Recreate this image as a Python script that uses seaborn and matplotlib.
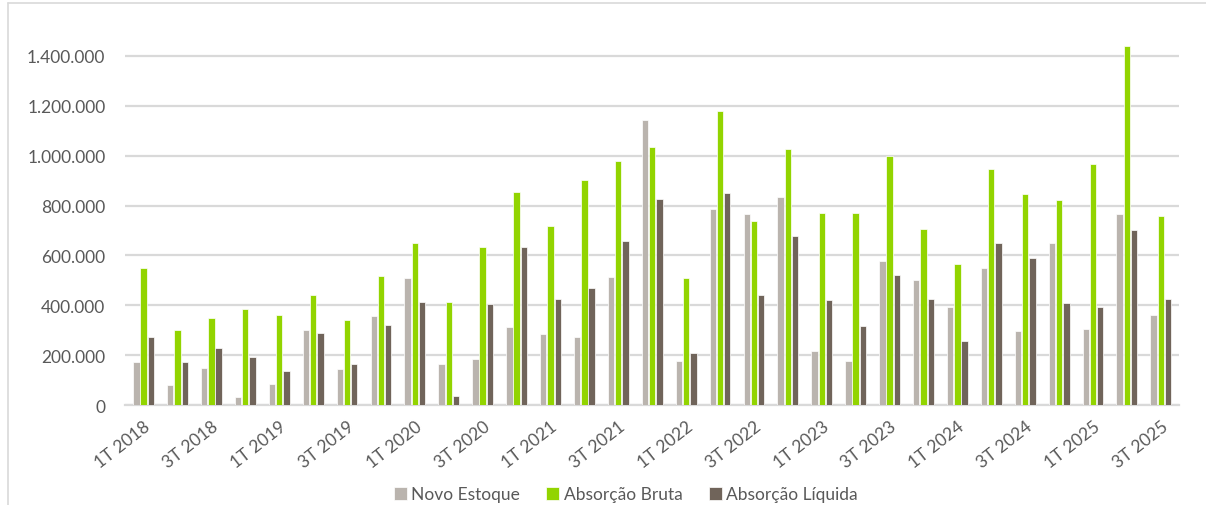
import matplotlib
matplotlib.use("Agg")
import matplotlib.pyplot as plt
import matplotlib.ticker as mticker
import pandas as pd
import seaborn as sns

# quarters 1T 2018 .. 3T 2025
quarters = [f"{q}T {y}" for y in range(2018, 2026) for q in range(1, 5)][:31]

novo_estoque = [171000, 80000, 150000, 33000, 83000, 299000, 144000, 355000,
                510000, 164000, 183000, 313000, 283000, 274000, 512000, 1144000,
                175000, 788000, 768000, 834000, 215000, 176000, 576000, 501000,
                394000, 550000, 298000, 648000, 305000, 766000, 362000]
absorcao_bruta = [548000, 299000, 347000, 387000, 361000, 440000, 339000, 516000,
                  648000, 415000, 632000, 855000, 717000, 904000, 978000, 1033000,
                  510000, 1181000, 736000, 1027000, 770000, 771000, 998000, 707000,
                  566000, 945000, 847000, 823000, 965000, 1440000, 756000]
absorcao_liquida = [274000, 174000, 227000, 191000, 138000, 287000, 163000, 322000,
                    415000, 37000, 406000, 633000, 424000, 470000, 657000, 826000,
                    208000, 852000, 440000, 679000, 421000, 315000, 522000, 424000,
                    255000, 651000, 590000, 409000, 395000, 703000, 426000]

series_names = ["Novo Estoque", "Absorção Bruta", "Absorção Líquida"]
colors = ["#BAB4AE", "#92D400", "#70645A"]

df = pd.DataFrame({
    "quarter": quarters * 3,
    "serie": sum([[s] * len(quarters) for s in series_names], []),
    "valor": novo_estoque + absorcao_bruta + absorcao_liquida,
})

sns.set_theme(style="white")
plt.rcParams["font.family"] = ["Lato", "DejaVu Sans"]

fig = plt.figure(figsize=(12.06, 5.06), dpi=100)
ax = fig.add_axes([0.1036, 0.1976, 0.8744, 0.7885])

sns.barplot(data=df, x="quarter", y="valor", hue="serie", hue_order=series_names,
            palette=colors, width=0.64, gap=0.12, saturation=1,
            edgecolor="white", linewidth=0.5, ax=ax, zorder=3)

ax.set_ylim(0, 1600000)
ax.set_xlim(-0.55, 30.55)
ax.set_yticks(range(0, 1400001, 200000))
ax.yaxis.set_major_formatter(mticker.FuncFormatter(lambda v, p: f"{int(v):,}".replace(",", ".")))
ax.grid(axis="y", color="#D9D9D9", linewidth=1.6, zorder=0)
ax.set_axisbelow(True)
for s in ["top", "right", "left"]:
    ax.spines[s].set_visible(False)
ax.spines["bottom"].set_color("#D9D9D9")
ax.spines["bottom"].set_linewidth(1.6)

ax.set_xticks(range(0, 31, 2))
ax.set_xticklabels(quarters[::2], rotation=38, ha="right", rotation_mode="anchor")
ax.tick_params(axis="both", labelsize=12.5, labelcolor="#595959", length=0)
ax.tick_params(axis="y", pad=14)
ax.tick_params(axis="x", pad=9)
ax.set_xlabel("")
ax.set_ylabel("")

ax.legend(loc="lower center", bbox_to_anchor=(0.5 - 0.025, -0.283), ncol=3,
          frameon=False, fontsize=12.5, handlelength=0.75, handleheight=0.75,
          handletextpad=0.25, columnspacing=1.5, labelcolor="#595959",
          bbox_transform=ax.transAxes)

# chart border (left and top edges visible in the crop)
fig.add_artist(plt.Line2D([0.0066, 0.0066], [0, 0.992], color="#D9D9D9", lw=1.2,
                          transform=fig.transFigure))
fig.add_artist(plt.Line2D([0.0066, 1], [0.992, 0.992], color="#D9D9D9", lw=1.2,
                          transform=fig.transFigure))

fig.savefig("out.png", dpi=100)
